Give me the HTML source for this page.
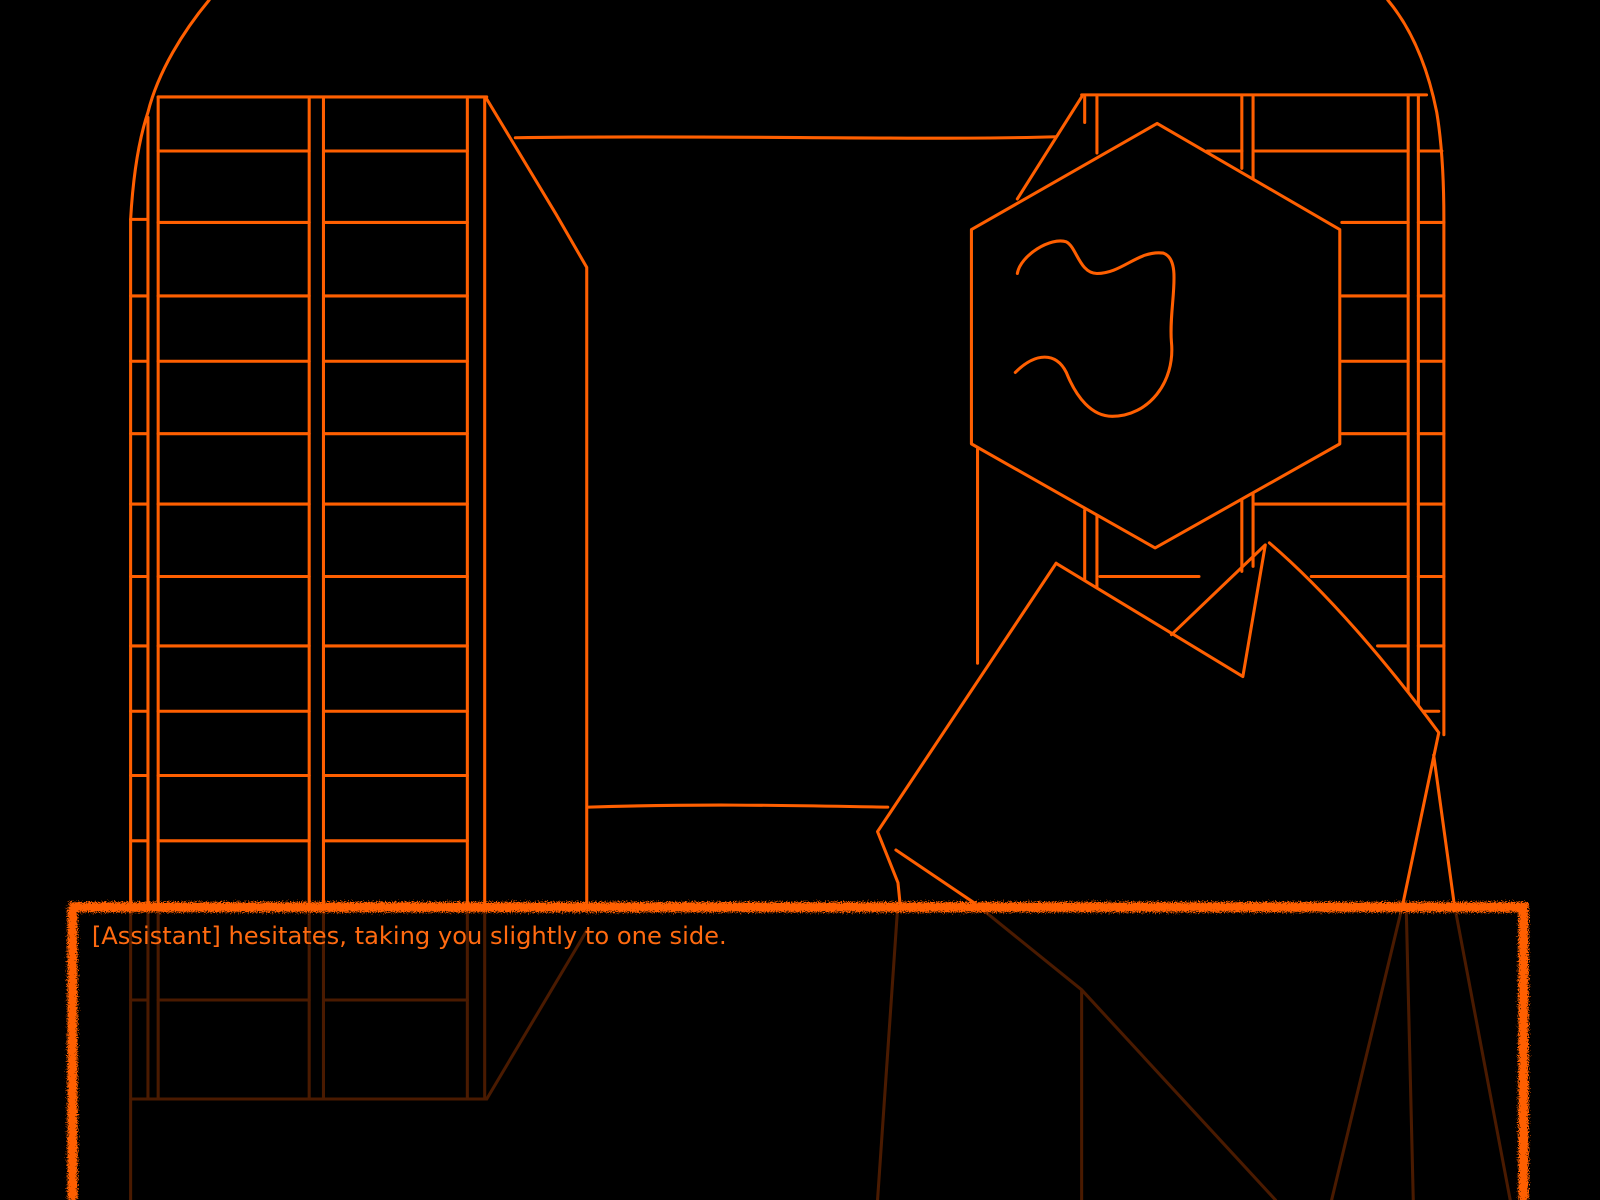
<!DOCTYPE html>
<html><head><meta charset="utf-8"><style>
html,body{margin:0;padding:0;background:#000;width:1600px;height:1200px;overflow:hidden}
svg{display:block}
</style></head><body>
<svg width="1600" height="1200" viewBox="0 0 1568 1176" xmlns="http://www.w3.org/2000/svg">
<defs>
<filter id="rough" x="-5%" y="-5%" width="110%" height="110%">
<feTurbulence type="fractalNoise" baseFrequency="0.9" numOctaves="2" seed="3"/>
<feDisplacementMap in="SourceGraphic" scale="9"/>
</filter>
</defs>
<rect width="1568" height="1176" fill="#000"/>
<!-- reflections -->
<g stroke="#4a1a00" stroke-width="3" fill="none" stroke-linecap="round">
<path d="M128 885 V1176 M145 885 V1077 M155 885 V1077 M303 885 V1077 M317 885 V1077 M458 885 V1077 M475 885 V1077"/>
<path d="M128 1077 H477 L575 912 M155 980 H303 M317 980 H458 M128 980 H145"/>
<path d="M880 885 L860 1176 M1060 970 V1176 M955 885 L1060 970 L1250 1176 M1375 885 L1305 1176 M1378 885 L1385 1176 M1425 885 L1480 1176"/>
</g>
<g stroke="#ff5f00" stroke-width="3" fill="none" stroke-linecap="round" stroke-linejoin="round">
<!-- left bookcase -->
<path d="M205 0 C180 30 155 70 145 110 C135 140 130 180 128 215 V885"/>
<path d="M145 115 V885 M155 95 V885 M303 97 V885 M317 97 V885 M458 97 V885 M475 97 V885"/>
<path d="M155 95 H477"/>
<path d="M477 97 L545 210 L575 262 V885"/>
<path d="M128 215 H145"/>
<path d="M155 148 H303 M317 148 H458 M155 218 H303 M317 218 H458 M155 290 H303 M317 290 H458 M155 354 H303 M317 354 H458 M155 425 H303 M317 425 H458 M155 494 H303 M317 494 H458 M155 565 H303 M317 565 H458 M155 633 H303 M317 633 H458 M155 697 H303 M317 697 H458 M155 760 H303 M317 760 H458 M155 824 H303 M317 824 H458"/>
<path d="M128 290 H145 M128 354 H145 M128 425 H145 M128 494 H145 M128 565 H145 M128 633 H145 M128 697 H145 M128 760 H145 M128 824 H145"/>
<!-- back wall -->
<path d="M505 135 C700 132 900 138 1035 134 M577 791 C700 787 800 790 870 791"/>
<!-- right bookcase -->
<path d="M1360 0 C1385 30 1400 70 1408 110 C1413 140 1415 180 1415 215 V720"/>
<path d="M1060 93 H1398 M1063 95 V120 M1075 95 V150 M1217 95 V165 M1228 95 V180 M1380 93 V680 M1390 93 V710"/>
<path d="M1060 95 L997 195"/>
<path d="M1230 148 H1380 M1390 148 H1413 M1315 218 H1380 M1390 218 H1415 M1315 290 H1380 M1390 290 H1415 M1315 354 H1380 M1390 354 H1415 M1315 425 H1380 M1390 425 H1415 M1230 494 H1380 M1390 494 H1415 M1285 565 H1380 M1390 565 H1415 M1350 633 H1380 M1390 633 H1415 M1390 697 H1410 M1183 148 H1217"/>
<path d="M958 440 V650 M1063 500 V570 M1075 505 V575 M1217 485 V560 M1228 480 V555 M1078 565 H1175"/>
<!-- head -->
<path d="M1134 121 L1313 225 V435 L1132 537 L952 435 V225 Z" fill="#000"/>
<path d="M997 268 C1000 250 1030 232 1045 237 C1055 242 1058 268 1075 268 C1100 268 1115 245 1140 248 C1160 255 1145 300 1148 335 C1152 375 1125 408 1090 408 C1070 408 1055 390 1045 365 C1035 345 1015 345 995 365"/>
<!-- body -->
<path d="M1035 552 L860 815 L880 865 L882 885 L1375 885 L1410 718 C1360 650 1300 580 1244 532 L1240 534 L1218 663 Z" fill="#000" stroke="none"/>
<path d="M1035 552 L860 815 L880 865 L882 885 M878 833 L955 885" />
<path d="M1035 552 L1218 663 L1240 534 L1148 622"/>
<path d="M1244 532 C1300 580 1360 650 1410 718 L1375 885 M1405 740 L1425 885"/>
</g>
<!-- dialogue box -->
<g filter="url(#rough)">
<path d="M68 889 H1493 V1176" stroke="#ff5f00" stroke-width="10" fill="none"/>
<path d="M71 889 V1176" stroke="#ff5f00" stroke-width="10" fill="none"/>
</g>
<text x="90" y="925" fill="#ff6a10" font-family="'DejaVu Sans','Liberation Sans',sans-serif" font-size="23.7">[Assistant] hesitates, taking you slightly to one side.</text>
</svg>
</body></html>
